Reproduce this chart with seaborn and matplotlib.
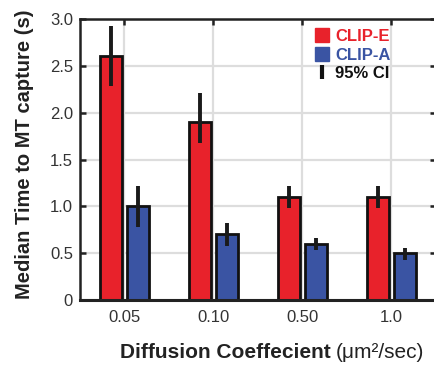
import pandas as pd
import seaborn as sns
import matplotlib.pyplot as plt
from matplotlib.lines import Line2D

# Data
diffusion = ["0.05", "0.10", "0.50", "1.0"]
clip_e = [2.6, 1.9, 1.1, 1.1]
clip_e_lo = [2.28, 1.68, 0.98, 0.98]
clip_e_hi = [2.92, 2.21, 1.22, 1.22]
clip_a = [1.0, 0.7, 0.6, 0.5]
clip_a_lo = [0.78, 0.58, 0.53, 0.43]
clip_a_hi = [1.22, 0.82, 0.665, 0.56]
y_ticks = [0, 0.5, 1.0, 1.5, 2.0, 2.5, 3.0]
y_tick_labels = ["0", "0.5", "1.0", "1.5", "2.0", "2.5", "3.0"]

red = "#e8222b"
blue = "#3a54a3"

df = pd.DataFrame({
    "diffusion": diffusion * 2,
    "time": clip_e + clip_a,
    "protein": ["CLIP-E"] * 4 + ["CLIP-A"] * 4,
})

sns.set_style("white")
plt.rcParams["font.family"] = ["Liberation Sans", "DejaVu Sans"]

fig = plt.figure(figsize=(4.35, 3.69), dpi=100)
ax = fig.add_axes([80 / 435, 69 / 369, 356 / 435, 281 / 369])

sns.barplot(data=df, x="diffusion", y="time", hue="protein",
            palette=[red, blue], saturation=1, width=0.6, gap=0.2, errorbar=None,
            edgecolor="#111111", linewidth=2, legend=False, ax=ax, zorder=2)

# confidence intervals drawn on top of the bars
bars = ax.patches[:8]
xs = [b.get_x() + b.get_width() / 2 for b in bars]
lo = clip_e_lo + clip_a_lo
hi = clip_e_hi + clip_a_hi
for x, l, h in zip(xs, lo, hi):
    ax.plot([x, x], [l, h], color="#1a1a1a", lw=2.8, solid_capstyle="butt", zorder=3)

ax.set_xlim(-0.5, 3.5)
ax.set_ylim(0, 3.0)
ax.set_yticks(y_ticks)
ax.set_yticklabels(y_tick_labels)
ax.grid(True, color="#dddddd", lw=1.6, zorder=0)
ax.set_axisbelow(True)

for side in ["left", "top", "bottom", "right"]:
    ax.spines[side].set_color("#222222")
    ax.spines[side].set_linewidth(1.8)
ax.spines["bottom"].set_linewidth(2.2)

ax.tick_params(axis="y", direction="in", left=True, right=True, length=4, width=1.8,
               labelsize=12, labelcolor="#333333", pad=5, color="#222222")
ax.tick_params(axis="x", direction="in", top=True, bottom=False, length=4, width=1.8,
               labelsize=12, labelcolor="#333333", pad=7, color="#222222")

ax.set_xlabel("")
ax.set_ylabel("Median Time to MT capture (s)", fontsize=14.5, fontweight="bold",
              color="#222222")
ax.yaxis.set_label_coords(-46 / 356, 0.52)

# x label: bold part + regular units
t1 = fig.text(120 / 435, 17 / 369, "Diffusion Coeffecient", fontsize=15,
              fontweight="bold", color="#222222", va="center", ha="left")
fig.canvas.draw()
bb = t1.get_window_extent(fig.canvas.get_renderer())
fig.text((bb.x1 + 5) / 435, 17 / 369, "(\u03bcm\u00b2/sec)", fontsize=15,
         color="#222222", va="center", ha="left")

handles = [
    Line2D([], [], ls="none", marker="s", markersize=10.5, markerfacecolor=red, markeredgecolor=red),
    Line2D([], [], ls="none", marker="s", markersize=10.5, markerfacecolor=blue, markeredgecolor=blue),
    Line2D([], [], ls="none", marker="|", markersize=10, markeredgewidth=3, color="#111111"),
]
ax.legend(handles, ["CLIP-E", "CLIP-A", "95% CI"], loc="upper left",
          bbox_to_anchor=(0.66, 0.965), frameon=False, handlelength=0.9,
          handletextpad=0.3, labelspacing=0.22, borderpad=0, borderaxespad=0,
          labelcolor=[red, blue, "#111111"], prop={"weight": "bold", "size": 12})

fig.savefig("out.png", dpi=100)
